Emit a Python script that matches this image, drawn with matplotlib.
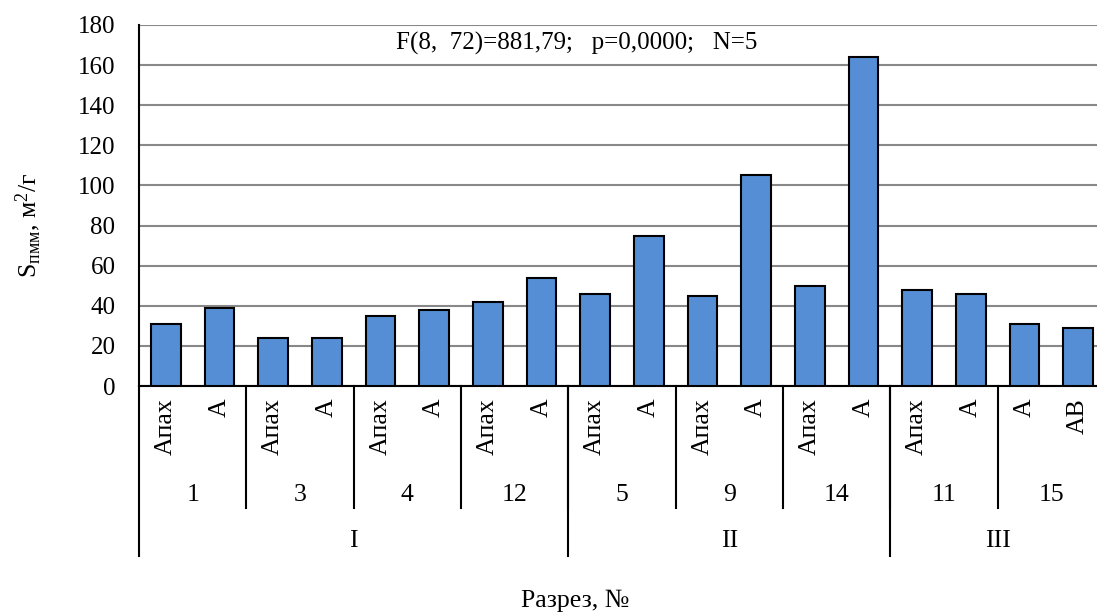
import matplotlib.pyplot as plt
import matplotlib.transforms as mtransforms
import numpy as np

plt.rcParams['font.family'] = ['Liberation Serif', 'DejaVu Serif']
plt.rcParams['mathtext.fontset'] = 'custom'
plt.rcParams['mathtext.rm'] = 'Liberation Serif'
plt.rcParams['mathtext.it'] = 'Liberation Serif'

# horizons, profiles and zones
horizons = ['Апах', 'А', 'Апах', 'А', 'Апах', 'А', 'Апах', 'А',
            'Апах', 'А', 'Апах', 'А', 'Апах', 'А',
            'Апах', 'А', 'А', 'АВ']
profiles = ['1', '3', '4', '12', '5', '9', '14', '11', '15']
profile_sizes = [2, 2, 2, 2, 2, 2, 2, 2, 2]
zones = ['I', 'II', 'III']
zone_sizes = [8, 6, 4]
values = [31, 39, 24, 24, 35, 38, 42, 54, 46, 75, 45, 105, 50, 164, 48, 46, 31, 29]

fs = 18.5
fig = plt.figure(figsize=(10.97, 6.14), dpi=100)
ax = fig.add_axes([0.1267, 0.3713, 0.8806, 0.588])

x = np.arange(len(values))
ax.bar(x, values, width=0.55, color='#558ED5', edgecolor='black', linewidth=1.5, zorder=3)

ax.set_xlim(-0.5, len(values) - 0.5)
ax.set_ylim(0, 180)
ax.set_yticks(np.arange(0, 181, 20))
ax.tick_params(axis='y', length=0, labelsize=18, pad=17)
ax.set_xticks([])
ax.yaxis.grid(True, color='#888888', linewidth=1.5, zorder=0)
ax.set_axisbelow(True)
for s in ['top', 'right']:
    ax.spines[s].set_visible(False)
ax.spines['left'].set_linewidth(1.5)
ax.spines['bottom'].set_linewidth(1.5)

trans = mtransforms.blended_transform_factory(ax.transData, ax.transAxes)

# multi-level category labels
for i, h in enumerate(horizons):
    ax.text(i, -0.035, h, rotation=90, ha='center', va='top', fontsize=fs, transform=trans)

pos = -0.5
for name, n in zip(profiles, profile_sizes):
    ax.text(pos + n / 2, -0.302, name, ha='center', va='center', fontsize=fs, transform=trans)
    pos += n
    ax.plot([pos, pos], [0, -0.338], color='black', linewidth=1.5, transform=trans, clip_on=False)

pos = -0.5
ax.plot([pos, pos], [0, -0.47], color='black', linewidth=1.5, transform=trans, clip_on=False)
for name, n in zip(zones, zone_sizes):
    ax.text(pos + n / 2, -0.43, name, ha='center', va='center', fontsize=fs, transform=trans)
    pos += n
    ax.plot([pos, pos], [0, -0.47], color='black', linewidth=1.5, transform=trans, clip_on=False)

ax.text(7.66, 0.95, 'F(8,  72)=881,79;   p=0,0000;   N=5', ha='center', va='center',
        fontsize=18, transform=trans)

fig.text(0.524, 0.021, 'Разрез, №', ha='center', va='center', fontsize=fs)
fig.text(0.026, 0.633, r'S$_{\mathrm{пмм}}$, м$^{\mathrm{2}}$/г', rotation=90,
         ha='center', va='center', fontsize=fs)

fig.savefig('out.png', dpi=100)
